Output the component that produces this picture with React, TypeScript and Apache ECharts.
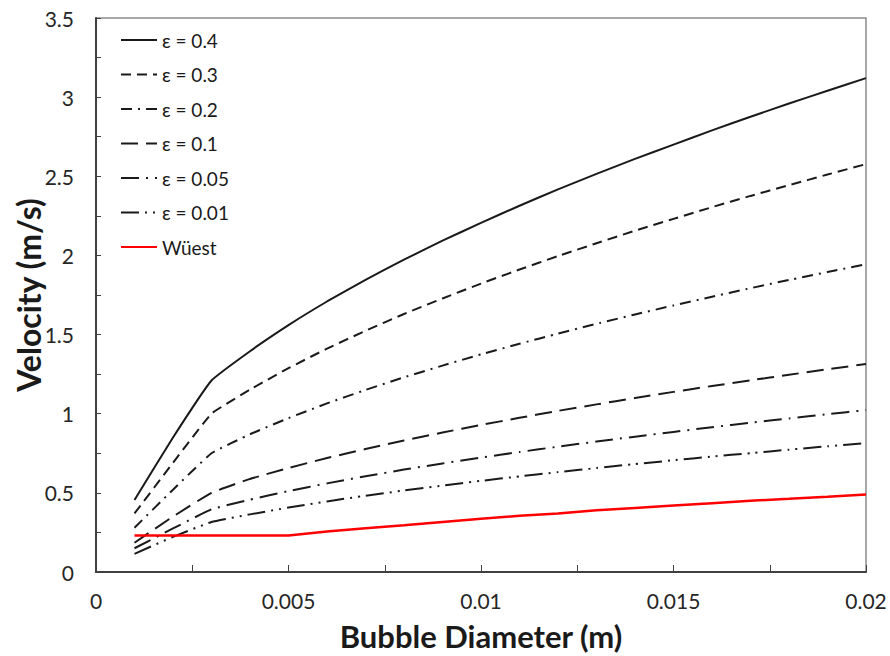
import React, { useEffect, useRef } from "react";
import * as echarts from "echarts";

const diameters = [0.001, 0.002, 0.003, 0.004, 0.005, 0.006, 0.007, 0.008, 0.009, 0.01, 0.011, 0.012, 0.013, 0.014, 0.015, 0.016, 0.017, 0.018, 0.019, 0.02];
const eps04 = [0.455, 0.85, 1.21, 1.395, 1.56, 1.709, 1.846, 1.973, 2.093, 2.206, 2.314, 2.417, 2.515, 2.61, 2.7, 2.79, 2.876, 2.96, 3.04, 3.12];
const eps03 = [0.37, 0.69, 1.0, 1.152, 1.288, 1.411, 1.524, 1.63, 1.728, 1.822, 1.911, 1.996, 2.077, 2.156, 2.231, 2.305, 2.376, 2.444, 2.511, 2.577];
const eps02 = [0.28, 0.52, 0.75, 0.87, 0.972, 1.065, 1.15, 1.23, 1.304, 1.375, 1.442, 1.506, 1.568, 1.627, 1.684, 1.739, 1.793, 1.845, 1.895, 1.944];
const eps01 = [0.185, 0.35, 0.5, 0.588, 0.657, 0.72, 0.777, 0.831, 0.881, 0.929, 0.974, 1.018, 1.059, 1.099, 1.138, 1.175, 1.211, 1.246, 1.281, 1.314];
const eps005 = [0.15, 0.275, 0.396, 0.457, 0.511, 0.56, 0.605, 0.647, 0.686, 0.723, 0.758, 0.792, 0.824, 0.855, 0.885, 0.915, 0.943, 0.97, 0.997, 1.023];
const eps001 = [0.115, 0.222, 0.316, 0.364, 0.407, 0.446, 0.482, 0.515, 0.546, 0.576, 0.604, 0.631, 0.657, 0.682, 0.706, 0.729, 0.751, 0.773, 0.794, 0.815];
const wuest = [0.23, 0.23, 0.23, 0.23, 0.23, 0.256, 0.276, 0.295, 0.316, 0.337, 0.355, 0.37, 0.39, 0.405, 0.42, 0.435, 0.45, 0.462, 0.475, 0.49];

const seriesNames = ["ε = 0.4", "ε = 0.3", "ε = 0.2", "ε = 0.1", "ε = 0.05", "ε = 0.01", "Wüest"];
const seriesValues = [eps04, eps03, eps02, eps01, eps005, eps001, wuest];
const seriesDash: any[] = ["solid", [10, 6], [11, 6, 2, 6], [17, 8], [18, 7, 2, 7], [18, 6, 2, 6, 2, 6], "solid"];
const seriesColors = ["#1a1a1a", "#1a1a1a", "#1a1a1a", "#1a1a1a", "#1a1a1a", "#1a1a1a", "#ff0000"];

const FONT = "Lato";

export default function App() {
  const ref = useRef<HTMLDivElement>(null);
  useEffect(() => {
    if (!ref.current) return;
    const chart = echarts.init(ref.current, null, { renderer: "svg" });
    const series = seriesNames.map((name, i) => ({
      name,
      type: "line",
      data: diameters.map((d, j) => [d, seriesValues[i][j]]),
      symbol: "none",
      showSymbol: false,
      smooth: i === 6 ? false : 0.12,
      lineStyle: {
        color: seriesColors[i],
        width: i === 6 ? 2.5 : 2,
        type: seriesDash[i],
      },
      itemStyle: { color: seriesColors[i] },
      z: i === 6 ? 3 : 2,
    }));
    chart.setOption({
      animation: false,
      backgroundColor: "#ffffff",
      textStyle: { fontFamily: FONT },
      grid: {
        left: 96,
        right: 24,
        top: 18,
        bottom: 84,
        containLabel: false,
        outerBoundsMode: "none",
        show: true,
        borderColor: "#8c8c8c",
        borderWidth: 1.5,
        backgroundColor: "transparent",
      },
      legend: {
        orient: "vertical",
        left: 115,
        top: 25,
        itemWidth: 36,
        itemHeight: 14,
        itemGap: 14.5,
        itemStyle: { opacity: 0 },
        textStyle: { fontFamily: FONT, fontSize: 19, color: "#1a1a1a", lineHeight: 20 },
        data: seriesNames,
      },
      xAxis: {
        type: "value",
        min: 0,
        max: 0.02,
        interval: 0.005,
        name: "Bubble Diameter (m)",
        nameLocation: "middle",
        nameGap: 48,
        nameMoveOverlap: false,
        nameTextStyle: { fontFamily: FONT, fontSize: 31, fontWeight: "bold", color: "#1a1a1a" },
        axisLine: { show: true, onZero: false, lineStyle: { color: "#404040", width: 2 } },
        axisTick: { show: true, inside: true, length: 7, lineStyle: { color: "#404040", width: 1 } },
        minorTick: { show: true, splitNumber: 2, length: 7, lineStyle: { color: "#404040", width: 1 } },
        splitLine: { show: false },
        axisLabel: {
          margin: 18,
          fontFamily: FONT,
          fontSize: 21,
          color: "#262626",
          formatter: (v: number) => String(Number(v.toFixed(4))),
        },
      },
      yAxis: {
        type: "value",
        min: 0,
        max: 3.5,
        interval: 0.5,
        name: "Velocity (m/s)",
        nameLocation: "middle",
        nameGap: 52,
        nameMoveOverlap: false,
        nameTextStyle: { fontFamily: FONT, fontSize: 32, fontWeight: "bold", color: "#1a1a1a" },
        axisLine: { show: true, onZero: false, lineStyle: { color: "#404040", width: 2 } },
        axisTick: { show: true, inside: true, length: 5, lineStyle: { color: "#404040", width: 1 } },
        minorTick: { show: true, splitNumber: 2, length: 5, lineStyle: { color: "#404040", width: 1 } },
        splitLine: { show: false },
        axisLabel: {
          margin: 22,
          fontFamily: FONT,
          fontSize: 21,
          color: "#262626",
          formatter: (v: number) => String(Number(v.toFixed(2))),
        },
      },
      series,
    });
    return () => chart.dispose();
  }, []);
  return (
    <div
      ref={ref}
      style={{ position: "absolute", left: 0, top: 0, width: 890, height: 656, background: "#fff" }}
    />
  );
}
